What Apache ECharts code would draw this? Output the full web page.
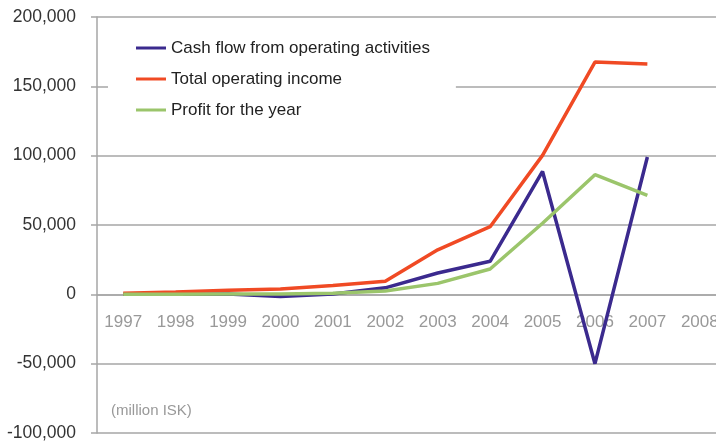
<!DOCTYPE html>
<html>
<head>
<meta charset="utf-8">
<script src="https://cdn.jsdelivr.net/npm/echarts@6/dist/echarts.min.js"></script>
<style>
  html, body { margin: 0; padding: 0; background: #fff; }
  #chart { width: 716px; height: 444px; }
</style>
</head>
<body>
<div id="chart"></div>
<script>
var years = ['1997', '1998', '1999', '2000', '2001', '2002', '2003', '2004', '2005', '2006', '2007', '2008'];
var cashFlow = [0, 100, 200, -1500, 200, 4700, 15400, 23800, 88600, -50000, 99000];
var operatingIncome = [700, 1600, 2900, 3800, 6400, 9500, 32100, 48800, 100200, 167500, 166100];
var profit = [0, 100, 200, 300, 700, 2400, 7900, 18300, 51300, 86300, 71400];
var yTicks = { min: -100000, max: 200000, step: 50000 };

var font = "'Liberation Sans', Arial, sans-serif";
var gridColor = '#a6a6a6';
var gridTop = 17, gridHeight = 416;
// lift the category axis from the bottom of the grid to the zero line
var zeroOffset = -gridHeight * (0 - yTicks.min) / (yTicks.max - yTicks.min);

var chart = echarts.init(document.getElementById('chart'));

var option = {
    animation: false,
    textStyle: { fontFamily: font },
    grid: {
        left: 97,
        top: gridTop,
        width: 629,
        height: gridHeight,
        outerBoundsMode: 'none',
        containLabel: false
    },
    legend: {
        orient: 'vertical',
        left: 108,
        top: 25,
        padding: [13, 26, 14, 28],
        backgroundColor: '#fff',
        itemGap: 11,
        itemWidth: 30,
        itemHeight: 3,
        icon: 'rect',
        textStyle: { fontFamily: font, fontSize: 17, color: '#222', lineHeight: 20 },
        data: ['Cash flow from operating activities', 'Total operating income', 'Profit for the year']
    },
    // note below the plot
    graphic: [{
        type: 'text',
        left: 111,
        top: 403,
        style: { text: '(million ISK)', fontFamily: font, fontSize: 15, fill: '#999' }
    }],
    xAxis: {
        type: 'category',
        data: years,
        boundaryGap: true,
        position: 'bottom',
        offset: zeroOffset,
        axisLine: { onZero: false, lineStyle: { color: gridColor, width: 1.5 } },
        axisTick: { length: 6, lineStyle: { color: gridColor, width: 1.5 } },
        axisLabel: { color: '#999', fontSize: 17, fontFamily: font, margin: 19, interval: 0 }
    },
    yAxis: {
        type: 'value',
        min: yTicks.min,
        max: yTicks.max,
        interval: yTicks.step,
        axisLine: { show: true, lineStyle: { color: gridColor, width: 1.5 } },
        axisTick: { show: true, length: 6, lineStyle: { color: gridColor, width: 1.5 } },
        splitLine: { show: true, lineStyle: { color: gridColor, width: 1.5 } },
        axisLabel: {
            color: '#333',
            fontSize: 17.5,
            fontFamily: font,
            margin: 21,
            formatter: function (v) {
                return v.toLocaleString('en-US');
            }
        }
    },
    series: [{
        name: 'Cash flow from operating activities',
        type: 'line',
        data: cashFlow,
        showSymbol: false,
        lineStyle: { color: '#3b2a8e', width: 3.5 },
        itemStyle: { color: '#3b2a8e' }
    }, {
        name: 'Total operating income',
        type: 'line',
        data: operatingIncome,
        showSymbol: false,
        lineStyle: { color: '#f04a24', width: 3.5 },
        itemStyle: { color: '#f04a24' }
    }, {
        name: 'Profit for the year',
        type: 'line',
        data: profit,
        showSymbol: false,
        lineStyle: { color: '#9bc56b', width: 3.5 },
        itemStyle: { color: '#9bc56b' }
    }]
};

chart.setOption(option);
</script>
</body>
</html>
